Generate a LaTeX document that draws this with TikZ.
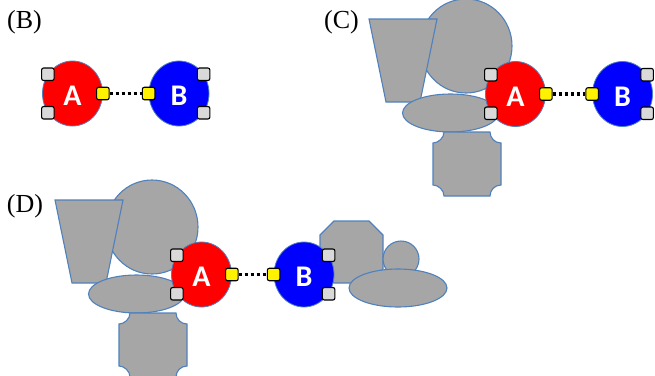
\documentclass[tikz,border=0pt]{standalone}
\usepackage{fontspec}
\setmainfont{Liberation Serif}
\newfontfamily\molfont{Carlito}
\usepackage{tikz}
\usetikzlibrary{shapes.geometric, positioning, calc}

\definecolor{shapegray}{RGB}{166,166,166}
\definecolor{edgeblue}{RGB}{79,129,189}
\definecolor{portgray}{RGB}{217,217,217}

\begin{document}
\begin{tikzpicture}[x=1pt, y=-1pt,
        blob/.style={fill=shapegray, draw=edgeblue, line width=1.1pt},
        mol/.style={ellipse, draw=edgeblue, line width=0.8pt, minimum width=60pt, minimum height=65pt,
            inner sep=0pt, text=white, text height=24pt, text depth=0pt,
            font=\molfont\bfseries\fontsize{30}{30}\selectfont},
        port/.style={rectangle, rounded corners=2pt, draw=black, line width=1.1pt, fill=portgray,
            minimum size=12.5pt, inner sep=0pt},
        link/.style={port, fill=yellow},
        bond/.style={line width=3.6pt, dash pattern=on 3.4pt off 2.6pt},
        panel/.style={font=\fontsize{26}{28}\selectfont, inner sep=0pt}]
    \useasboundingbox (0,0) rectangle (655,375);

    % panel labels
    \node[panel] (labB) at (24.5,22) {(B)};
    \node[panel] (labC) at (341.5,22.5) {(C)};
    \node[panel] (labD) at (25,206) {(D)};

    % (C) surroundings of A
    \draw[blob] (466,46) ellipse [x radius=46, y radius=47];
    \draw[blob] (369,19) -- (437,19) -- (420,102) -- (386,102) -- cycle;
    \draw[blob] (450.5,113) ellipse [x radius=48, y radius=19];
    \draw[blob] (444,132) -- (490,132) .. controls (490,138.1) and (494.9,143) .. (501,143)
        -- (501,185) .. controls (494.9,185) and (490,189.9) .. (490,196)
        -- (444,196) .. controls (444,189.9) and (438.1,185) .. (433,185)
        -- (433,143) .. controls (438.1,143) and (444,138.1) .. (444,132) -- cycle;

    % (D) surroundings of A
    \draw[blob] (152,227) ellipse [x radius=46, y radius=47];
    \draw[blob] (55,200) -- (123,200) -- (106,283) -- (72,283) -- cycle;
    \draw[blob] (136.5,294) ellipse [x radius=48, y radius=19];
    \draw[blob] (130,313) -- (176,313) .. controls (176,319.1) and (180.9,324) .. (187,324)
        -- (187,366) .. controls (180.9,366) and (176,370.9) .. (176,377)
        -- (130,377) .. controls (130,370.9) and (124.1,366) .. (119,366)
        -- (119,324) .. controls (124.1,324) and (130,319.1) .. (130,313) -- cycle;

    % (D) surroundings of B
    \draw[blob] (334,221) -- (369,221) -- (383,235) -- (383,269) -- (369,283)
        -- (334,283) -- (320,269) -- (320,235) -- cycle;
    \draw[blob] (401,259) circle [radius=18];
    \draw[blob] (398,288) ellipse [x radius=49, y radius=19];

    % (B)
    \node[mol, fill=red] (Ab) at (72.5,93.5) {A};
    \node[mol, fill=blue] (Bb) at (179,93.5) {B};
    \node[port] (Ab-up) at (Ab.142) {};
    \node[port] (Ab-dn) at (Ab.218) {};
    \node[link] (Ab-end) at (Ab.east) {};
    \node[link] (Bb-end) at (Bb.west) {};
    \node[port] (Bb-up) at (Bb.38) {};
    \node[port] (Bb-dn) at (Bb.-38) {};
    \draw[bond] (Ab-end) -- (Bb-end);

    % (C)
    \node[mol, fill=red] (Ac) at (515.5,94) {A};
    \node[mol, fill=blue] (Bc) at (622.5,94) {B};
    \node[port] (Ac-up) at (Ac.142) {};
    \node[port] (Ac-dn) at (Ac.218) {};
    \node[link] (Ac-end) at (Ac.east) {};
    \node[link] (Bc-end) at (Bc.west) {};
    \node[port] (Bc-up) at (Bc.38) {};
    \node[port] (Bc-dn) at (Bc.-38) {};
    \draw[bond] (Ac-end) -- (Bc-end);

    % (D)
    \node[mol, fill=red] (Ad) at (201.5,274.5) {A};
    \node[mol, fill=blue] (Bd) at (304,274.5) {B};
    \node[port] (Ad-up) at (Ad.142) {};
    \node[port] (Ad-dn) at (Ad.218) {};
    \node[link] (Ad-end) at (Ad.east) {};
    \node[link] (Bd-end) at (Bd.west) {};
    \node[port] (Bd-up) at (Bd.38) {};
    \node[port] (Bd-dn) at (Bd.-38) {};
    \draw[bond] (Ad-end) -- (Bd-end);
\end{tikzpicture}
\end{document}
